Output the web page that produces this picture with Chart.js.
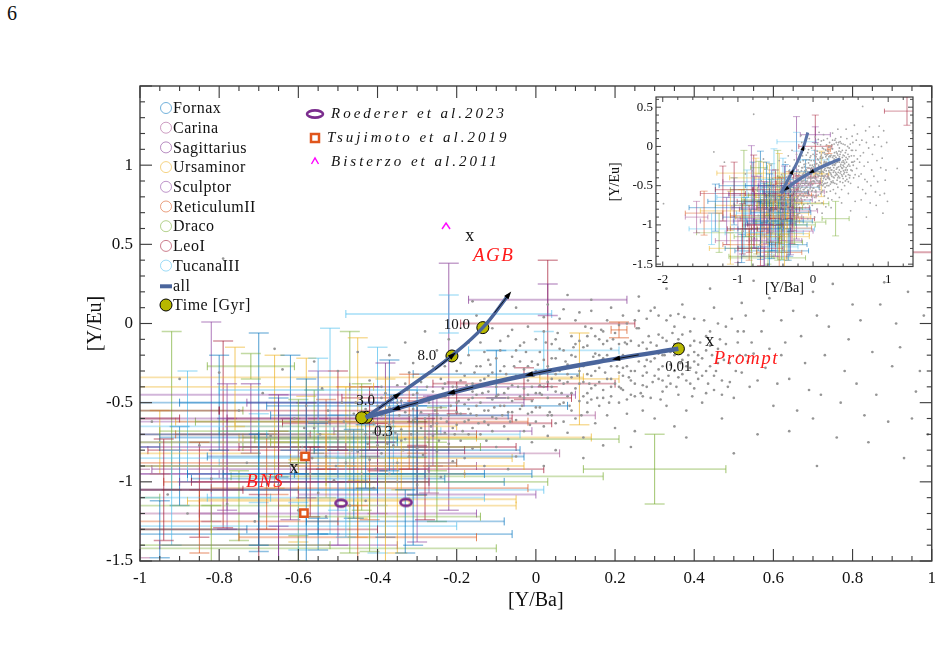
<!DOCTYPE html>
<html>
<head>
<meta charset="utf-8">
<script src="https://cdn.jsdelivr.net/npm/chart.js@4.4.1/dist/chart.umd.min.js"></script>
<style>
  body { margin: 0; background: #fff; }
  #wrap { position: relative; width: 943px; height: 663px; overflow: hidden; }
  #mainChart { position: absolute; left: 0; top: 0; }
  #insetChart { position: absolute; left: 596px; top: 86px; }
  #pageNo { position: absolute; left: 7px; top: 2px; font: 20px "Liberation Serif", serif; color: #111; }
</style>
</head>
<body>
<div id="wrap">
  <div id="pageNo">6</div>
  <canvas id="mainChart" width="943" height="663"></canvas>
  <canvas id="insetChart" width="330" height="214"></canvas>
</div>
<script>
// ---- data ----
const galaxyNames = ['Fornax', 'Carina', 'Sagittarius', 'Ursaminor', 'Sculptor', 'ReticulumII', 'Draco', 'LeoI', 'TucanaIII'];
const galaxyColors = ['#0072bd', '#a44f8f', '#7e2f8e', '#edb120', '#8a3f9e', '#d95319', '#77ac30', '#a2142f', '#4dbeee'];

// stars: [Y/Ba, Y/Eu, err Y/Ba, err Y/Eu, galaxy]
const stars = [
  [-0.92, -0.55, 0.18, 0.50, 6], [-0.82, -0.62, 0.30, 0.63, 4], [-0.79, -0.70, 0.22, 0.59, 7],
  [-0.70, -0.75, 0.35, 0.69, 0], [-0.66, -0.62, 0.25, 0.42, 3], [-0.52, -0.68, 0.28, 0.65, 8],
  [-0.47, -0.75, 0.20, 0.70, 6], [-0.45, -0.72, 0.30, 0.63, 3], [-0.40, -0.80, 0.18, 0.65, 8],
  [-0.22, -0.40, 0.25, 0.78, 2], [0.03, 0.00, 0.22, 0.40, 7], [-0.03, -0.38, 0.23, 0.10, 7],
  [-0.22, 0.06, 0.26, 0.12, 8], [0.03, 0.15, 0.20, 0.10, 2], [0.02, -0.17, 0.19, 0.12, 8],
  [-0.10, -0.32, 0.21, 0.15, 0], [0.11, -0.35, 0.10, 0.29, 3], [0.21, -0.04, 0.02, 0.05, 5],
  [-0.72, -0.27, 0.11, 0.08, 6], [-0.58, -0.34, 0.70, 0.12, 3], [-0.55, -0.45, 0.65, 0.15, 4],
  [0.30, -0.92, 0.18, 0.22, 6], [-0.20, -0.47, 0.29, 0.10, 7], [-0.25, -0.58, 0.40, 0.12, 1],
  [-0.30, -0.72, 0.44, 0.10, 3], [-0.25, -0.73, 0.46, 0.20, 6], [-0.30, -0.965, 0.47, 0.12, 6],
  [-0.40, -1.05, 0.42, 0.10, 8], [-0.45, -1.11, 0.40, 0.12, 3], [-0.55, -1.33, 0.49, 0.10, 0],
  [-0.60, -1.42, 0.50, 0.08, 6], [-0.30, -0.63, 0.34, 0.14, 7], [-0.40, -0.78, 0.35, 0.15, 7],
  [-0.42, -1.04, 0.40, 0.20, 5], [-0.30, -0.52, 0.38, 0.10, 0],
  [-0.90, -0.90, 0.30, 0.25, 0], [-0.85, -1.05, 0.25, 0.30, 7], [-0.95, -0.75, 0.35, 0.20, 3],
  [-0.78, -0.95, 0.28, 0.35, 4], [-0.75, -1.15, 0.30, 0.22, 6], [-0.70, -0.85, 0.32, 0.28, 8],
  [-0.68, -1.00, 0.26, 0.30, 5], [-0.65, -0.72, 0.30, 0.25, 0], [-0.62, -0.92, 0.35, 0.32, 2],
  [-0.60, -1.12, 0.28, 0.26, 3], [-0.58, -0.80, 0.40, 0.30, 7], [-0.56, -0.62, 0.30, 0.20, 6],
  [-0.55, -0.98, 0.32, 0.35, 0], [-0.53, -0.70, 0.38, 0.22, 5], [-0.50, -0.88, 0.30, 0.30, 8],
  [-0.50, -1.20, 0.35, 0.20, 4], [-0.48, -0.65, 0.28, 0.25, 3], [-0.46, -0.95, 0.33, 0.28, 0],
  [-0.44, -0.78, 0.30, 0.40, 6], [-0.42, -0.60, 0.36, 0.20, 7], [-0.40, -0.90, 0.25, 0.30, 1],
  [-0.38, -1.00, 0.30, 0.35, 0], [-0.36, -0.70, 0.32, 0.25, 8], [-0.34, -0.85, 0.28, 0.20, 3],
  [-0.32, -0.62, 0.30, 0.30, 5], [-0.30, -0.80, 0.26, 0.28, 0], [-0.28, -0.92, 0.30, 0.32, 7],
  [-0.26, -0.68, 0.25, 0.22, 4], [-0.25, -1.00, 0.28, 0.25, 6], [-0.60, -1.28, 0.40, 0.15, 8],
  [-0.72, -0.60, 0.40, 0.22, 2], [-0.80, -0.50, 0.45, 0.30, 0], [-0.88, -0.65, 0.40, 0.35, 8],
  [-1.05, -0.70, 0.35, 0.30, 0], [-1.10, -0.82, 0.40, 0.25, 3], [-1.15, -0.95, 0.35, 0.30, 4],
  [-1.20, -0.60, 0.30, 0.35, 7], [-1.25, -1.10, 0.30, 0.25, 6], [-1.30, -0.78, 0.35, 0.30, 0],
  [-1.45, -0.85, 0.25, 0.28, 5], [-1.35, -1.05, 0.30, 0.20, 8], [-1.00, -1.20, 0.30, 0.28, 1],
  [-1.05, -0.55, 0.25, 0.35, 7], [-1.10, -1.30, 0.28, 0.20, 3], [-0.95, -1.30, 0.22, 0.18, 0],
  [-0.85, -1.25, 0.35, 0.20, 5], [-0.92, -1.10, 0.25, 0.30, 8], [-0.70, -1.30, 0.30, 0.22, 7],
  [-0.65, -1.40, 0.30, 0.12, 4], [-0.76, -0.40, 0.35, 0.25, 3], [-0.62, -0.50, 0.28, 0.30, 0],
  [-0.50, -0.55, 0.30, 0.25, 7], [-0.35, -1.15, 0.30, 0.30, 3], [-0.33, -1.25, 0.25, 0.20, 0],
  [-0.45, -1.35, 0.30, 0.20, 5], [-0.38, -0.50, 0.35, 0.25, 2], [-0.55, -0.42, 0.25, 0.20, 8],
  [-0.65, -0.88, 0.45, 0.20, 5], [-0.78, -0.78, 0.30, 0.40, 4], [-0.82, -1.40, 0.30, 0.25, 6],
  [-0.53, -0.90, 0.50, 0.20, 3], [-0.43, -0.84, 0.40, 0.20, 0], [-0.60, -0.68, 0.35, 0.20, 6],
  [-0.57, -1.00, 0.30, 0.22, 7], [-0.48, -1.10, 0.35, 0.25, 8], [-0.42, -1.22, 0.28, 0.22, 6],
  [-0.70, -1.05, 0.30, 0.35, 0], [-0.30, -1.08, 0.30, 0.30, 4], [-0.27, -0.82, 0.33, 0.25, 1],
  [-0.37, -0.58, 0.30, 0.35, 0], [-0.38, -0.95, 0.20, 0.60, 3], [-0.31, -0.95, 0.30, 0.45, 0],
  [-0.58, -0.95, 0.30, 0.60, 0], [-0.65, -1.00, 0.25, 0.55, 2], [-0.94, -1.05, 0.20, 0.32, 7],
  [-1.55, -0.90, 0.15, 0.20, 1], [1.25, 0.45, 0.30, 0.18, 7]
];

// simulated stars (grey cloud)
const simPoints = [
  [-0.97,-0.62],[-0.93,-1.08],[-0.9,-0.35],[-0.88,-1.2],[-0.85,-0.77],[-0.82,-0.98],[-0.8,-0.31],[-0.78,-1.14],
  [-0.75,-0.55],[-0.73,-0.88],[-0.71,-1.25],[-0.69,-0.44],[-0.67,-0.71],[-0.65,-1.02],[-0.64,-0.29],[-0.62,-0.9],
  [-0.61,-0.6],[-0.6,-1.18],[-0.79,0.41],[-0.66,-0.16],
  [-0.59,-0.78],[-0.58,-0.52],[-0.57,-0.95],[-0.56,-0.66],[-0.55,-1.07],[-0.54,-0.41],[-0.53,-0.84],[-0.52,-0.61],
  [-0.51,-0.99],[-0.5,-0.73],[-0.49,-0.5],[-0.48,-0.88],[-0.47,-0.68],[-0.47,-1.15],[-0.46,-0.57],[-0.45,-0.81],
  [-0.44,-0.47],[-0.44,-0.95],[-0.43,-0.7],[-0.42,-0.36],[-0.42,-0.86],[-0.41,-0.63],[-0.41,-1.04],[-0.4,-0.52],
  [-0.4,-0.77],[-0.56,-0.24],[-0.5,-0.3],[-0.45,-0.18],[-0.53,-1.22],[-0.43,-1.12],
  [-0.585,-0.66],[-0.565,-0.85],[-0.545,-0.7],[-0.525,-0.55],[-0.505,-0.9],[-0.485,-0.62],[-0.465,-0.8],
  [-0.455,-0.5],[-0.435,-0.6],[-0.425,-0.76],[-0.415,-0.45],[-0.405,-0.92],
  [-0.39,-0.58],[-0.39,-0.82],[-0.38,-0.44],[-0.38,-0.7],[-0.37,-0.95],[-0.37,-0.53],[-0.36,-0.62],[-0.36,-0.77],
  [-0.35,-0.39],[-0.35,-0.88],[-0.34,-0.49],[-0.34,-0.67],[-0.33,-0.56],[-0.33,-0.73],[-0.32,-0.31],[-0.32,-0.84],
  [-0.31,-0.45],[-0.31,-0.61],[-0.3,-0.52],[-0.3,-0.79],[-0.3,-1.02],[-0.29,-0.37],[-0.29,-0.66],[-0.28,-0.48],
  [-0.28,-0.72],[-0.27,-0.58],[-0.27,-0.9],[-0.26,-0.27],[-0.26,-0.43],[-0.25,-0.63],[-0.25,-0.81],[-0.24,-0.53],
  [-0.24,-0.35],[-0.23,-0.69],[-0.23,-0.46],[-0.22,-0.58],[-0.22,-0.76],[-0.21,-0.4],[-0.21,-0.87],[-0.2,-0.5],
  [-0.2,-0.64],[-0.2,-0.3],[-0.37,-0.2],[-0.33,-0.12],[-0.28,-0.05],[-0.25,-0.17],[-0.22,-0.1],[-0.35,-1.0],
  [-0.24,-0.97],[-0.31,-0.25],
  [-0.395,-0.65],[-0.385,-0.51],[-0.375,-0.76],[-0.365,-0.46],[-0.355,-0.69],[-0.345,-0.58],[-0.335,-0.8],
  [-0.325,-0.42],[-0.315,-0.7],[-0.305,-0.6],[-0.295,-0.5],[-0.285,-0.83],[-0.275,-0.4],[-0.265,-0.65],
  [-0.255,-0.55],[-0.245,-0.74],[-0.235,-0.41],[-0.225,-0.62],[-0.215,-0.52],[-0.205,-0.7],[-0.39,-0.4],
  [-0.33,-0.38],[-0.27,-0.31],[-0.23,-0.27],[-0.36,-0.55],[-0.28,-0.6],[-0.21,-0.45],[-0.31,-0.54],
  [-0.43,-0.54],[-0.41,-0.69],[-0.39,-0.47],[-0.37,-0.64],[-0.35,-0.5],[-0.34,-0.74],[-0.32,-0.58],[-0.3,-0.44],
  [-0.29,-0.56],[-0.27,-0.5],[-0.26,-0.71],[-0.24,-0.6],[-0.23,-0.38],[-0.21,-0.66],[-0.2,-0.56],
  [-0.19,-0.57],[-0.19,-0.42],[-0.19,-0.74],[-0.18,-0.33],[-0.18,-0.62],[-0.18,-0.85],[-0.17,-0.48],[-0.17,-0.54],
  [-0.17,-0.2],[-0.16,-0.66],[-0.16,-0.38],[-0.16,-0.79],[-0.15,-0.45],[-0.15,-0.58],[-0.15,-0.27],[-0.14,-0.7],
  [-0.14,-0.5],[-0.14,-0.12],[-0.13,-0.35],[-0.13,-0.62],[-0.13,-0.9],[-0.12,-0.43],[-0.12,-0.55],[-0.12,-0.23],
  [-0.11,-0.68],[-0.11,-0.31],[-0.11,-0.48],[-0.1,-0.6],[-0.1,-0.4],[-0.1,-0.78],[-0.09,-0.17],[-0.09,-0.52],
  [-0.09,-0.36],[-0.08,-0.65],[-0.08,-0.44],[-0.08,-0.27],[-0.07,-0.56],[-0.07,-0.08],[-0.07,-0.73],[-0.06,-0.39],
  [-0.06,-0.49],[-0.06,-0.21],[-0.05,-0.61],[-0.05,-0.33],[-0.05,-0.84],[-0.04,-0.46],[-0.04,-0.14],[-0.04,-0.54],
  [-0.03,-0.29],[-0.03,-0.68],[-0.03,-0.41],[-0.02,-0.57],[-0.02,-0.02],[-0.02,-0.36],[-0.01,-0.49],[-0.01,-0.24],
  [-0.01,-0.75],[0,-0.44],[0,-0.62],[0,-0.1],[-0.15,0.05],[-0.05,0.1],[-0.11,-0.03],[-0.18,-0.95],[-0.07,-0.92],
  [-0.16,0.14],
  [-0.195,-0.49],[-0.185,-0.68],[-0.175,-0.39],[-0.165,-0.57],[-0.155,-0.31],[-0.145,-0.63],[-0.135,-0.44],
  [-0.125,-0.74],[-0.115,-0.26],[-0.105,-0.53],[-0.095,-0.45],[-0.085,-0.58],[-0.075,-0.32],[-0.065,-0.62],
  [-0.055,-0.27],[-0.045,-0.4],[-0.035,-0.52],[-0.025,-0.18],[-0.015,-0.64],[-0.005,-0.33],[-0.19,-0.25],
  [-0.17,-0.12],[-0.13,-0.18],[-0.09,-0.11],[-0.06,-0.04],[-0.03,-0.12],[-0.17,-0.7],[-0.12,-0.64],[-0.07,-0.47],
  [-0.02,-0.45],[-0.14,-0.36],[-0.1,-0.22],[-0.04,-0.24],[-0.01,-0.56],[-0.2,-0.4],[-0.16,-0.47],
  [-0.19,-0.36],[-0.18,-0.51],[-0.17,-0.61],[-0.16,-0.43],[-0.15,-0.52],[-0.14,-0.27],[-0.13,-0.55],[-0.12,-0.33],
  [-0.11,-0.59],[-0.1,-0.46],[-0.09,-0.3],[-0.08,-0.52],[-0.07,-0.41],[-0.06,-0.56],[-0.05,-0.17],[-0.04,-0.33],
  [-0.03,-0.47],[-0.02,-0.27],[-0.01,-0.4],[0,-0.3],[0,-0.53],
  [0.01,-0.32],[0.01,-0.53],[0.01,-0.18],[0.02,-0.65],[0.02,-0.4],[0.02,-0.05],[0.03,-0.47],[0.03,-0.27],
  [0.03,-0.71],[0.04,-0.35],[0.04,-0.58],[0.04,-0.13],[0.05,-0.43],[0.05,-0.22],[0.05,-0.8],[0.06,-0.51],
  [0.06,-0.3],[0.06,0.03],[0.07,-0.62],[0.07,-0.38],[0.07,-0.17],[0.08,-0.46],[0.08,-0.26],[0.08,-0.69],
  [0.09,-0.34],[0.09,-0.55],[0.09,-0.08],[0.1,-0.41],[0.1,-0.21],[0.1,-0.6],[0.11,-0.3],[0.11,-0.49],
  [0.11,0.07],[0.12,-0.37],[0.12,-0.15],[0.12,-0.72],[0.13,-0.44],[0.13,-0.25],[0.13,-0.56],[0.14,-0.33],
  [0.14,-0.03],[0.14,-0.48],[0.15,-0.19],[0.15,-0.63],[0.15,-0.39],[0.16,-0.28],[0.16,-0.52],[0.16,-0.1],
  [0.17,-0.42],[0.17,-0.22],[0.17,-0.77],[0.18,-0.35],[0.18,0.02],[0.18,-0.58],[0.19,-0.46],[0.19,-0.16],
  [0.19,-0.27],[0.2,-0.38],[0.2,-0.66],[0.2,-0.06],[0.03,0.12],[0.08,0.18],[0.14,0.15],[0.02,-0.9],
  [0.12,-0.85],[0.19,0.1],
  [0.005,-0.26],[0.015,-0.45],[0.025,-0.12],[0.035,-0.56],[0.045,-0.3],[0.055,-0.06],[0.065,-0.44],
  [0.075,-0.24],[0.085,-0.52],[0.095,-0.15],[0.105,-0.33],[0.115,-0.58],[0.125,-0.02],[0.135,-0.38],
  [0.145,-0.21],[0.155,-0.47],[0.165,-0.04],[0.175,-0.31],[0.185,-0.5],[0.195,-0.1],[0.01,-0.39],[0.04,-0.22],
  [0.06,-0.36],[0.09,-0.27],[0.11,-0.11],[0.13,-0.32],[0.15,-0.08],[0.17,-0.13],[0.19,-0.35],[0.02,0.04],
  [0.07,0.09],[0.1,0.02],[0.14,0.08],[0.18,-0.2],[0.08,-0.37],[0.12,-0.46],[0.16,-0.37],[0.05,-0.63],
  [0.03,-0.37],[0.13,-0.5],
  [0.01,-0.44],[0.02,-0.23],[0.03,-0.58],[0.04,-0.4],[0.05,-0.32],[0.06,-0.16],[0.07,-0.5],[0.08,-0.32],
  [0.09,-0.44],[0.1,-0.13],[0.11,-0.38],[0.12,-0.27],[0.13,-0.08],[0.14,-0.41],[0.15,-0.3],[0.16,-0.2],
  [0.17,-0.47],[0.18,-0.11],[0.19,-0.4],[0.2,-0.22],[0.17,-0.05],[0.13,-0.14],[0.09,-0.2],[0.05,-0.1],
  [0.21,-0.31],[0.21,-0.5],[0.22,-0.2],[0.22,-0.42],[0.22,0.05],[0.23,-0.57],[0.23,-0.27],[0.24,-0.36],
  [0.24,-0.11],[0.25,-0.46],[0.25,-0.68],[0.26,-0.24],[0.26,-0.03],[0.27,-0.39],[0.27,-0.55],[0.28,-0.16],
  [0.28,-0.31],[0.29,-0.47],[0.29,0.08],[0.3,-0.22],[0.3,-0.6],[0.31,-0.35],[0.31,-0.07],[0.32,-0.43],
  [0.32,-0.27],[0.33,-0.52],[0.33,0.02],[0.34,-0.18],[0.34,-0.38],[0.35,-0.3],[0.35,-0.65],[0.36,-0.1],
  [0.36,-0.45],[0.37,-0.23],[0.37,0.12],[0.38,-0.36],[0.38,-0.55],[0.39,-0.14],[0.39,-0.28],[0.4,-0.41],
  [0.4,0.03],[0.26,0.17],[0.33,0.22],[0.24,-0.78],[0.38,-0.72],
  [0.205,-0.27],[0.215,-0.41],[0.225,-0.12],[0.235,-0.34],[0.245,-0.21],[0.255,-0.03],[0.265,-0.44],
  [0.275,-0.27],[0.285,-0.08],[0.295,-0.37],[0.305,-0.14],[0.315,-0.48],[0.325,-0.2],[0.335,-0.33],
  [0.345,-0.06],[0.355,-0.4],[0.365,-0.25],[0.375,0.04],[0.385,-0.2],[0.395,-0.46],[0.405,-0.31],
  [0.415,-0.12],[0.425,0.02],[0.435,-0.38],[0.445,-0.2],[0.21,-0.13],[0.23,0.0],[0.25,-0.3],[0.27,-0.12],
  [0.29,-0.24],[0.31,-0.29],[0.33,-0.11],[0.35,-0.2],[0.37,-0.32],[0.39,-0.05],[0.41,-0.26],[0.43,-0.17],
  [0.22,-0.33],[0.24,-0.45],[0.28,-0.4],[0.32,-0.36],[0.36,0.06],[0.4,-0.18],[0.44,-0.05],[0.26,0.08],
  [0.3,0.1],[0.34,0.05],
  [0.21,-0.4],[0.22,-0.28],[0.23,-0.13],[0.24,-0.3],[0.25,-0.38],[0.26,-0.14],[0.27,-0.46],[0.28,-0.23],
  [0.29,-0.12],[0.3,-0.33],[0.31,-0.19],[0.32,-0.09],[0.33,-0.4],[0.34,-0.26],[0.35,-0.13],[0.36,-0.34],
  [0.37,-0.07],[0.38,-0.27],[0.39,-0.38],[0.4,-0.11],[0.41,-0.35],[0.42,-0.22],[0.43,-0.44],[0.44,-0.14],
  [0.45,-0.33],[0.25,0.02],[0.28,0.03],[0.31,0.05],[0.35,-0.02],[0.21,-0.01],[0.23,-0.48],[0.27,-0.33],
  [0.32,-0.2],[0.36,-0.16],[0.4,-0.24],[0.43,-0.3],
  [0.41,-0.2],[0.42,-0.33],[0.42,-0.5],[0.43,-0.08],[0.44,-0.27],[0.45,-0.42],[0.45,0.1],[0.46,-0.16],
  [0.47,-0.36],[0.47,-0.6],[0.48,-0.02],[0.49,-0.25],[0.5,-0.47],[0.51,-0.12],[0.52,-0.31],[0.53,0.05],
  [0.54,-0.4],[0.55,-0.19],[0.56,-0.7],[0.57,-0.05],[0.58,-0.28],[0.59,0.16],[0.44,0.22],[0.5,-0.82],
  [0.55,0.27],
  [0.455,-0.3],[0.465,-0.1],[0.475,-0.23],[0.485,-0.4],[0.495,0.03],[0.505,-0.3],[0.515,-0.2],[0.525,-0.05],
  [0.535,-0.24],[0.545,-0.12],[0.56,-0.36],[0.575,0.08],[0.59,-0.16],[0.48,-0.13],[0.52,0.13],[0.46,0.0],
  [0.46,-0.25],[0.49,-0.37],[0.51,-0.05],[0.47,-0.45],[0.53,-0.2],
  [0.61,-0.38],[0.63,-0.12],[0.65,0.08],[0.66,-0.55],[0.68,-0.25],[0.7,0.2],[0.72,-0.45],[0.74,-0.02],
  [0.76,-0.72],[0.78,-0.3],[0.8,0.12],[0.83,-0.58],[0.85,-0.18],[0.88,0.26],[0.9,-0.27],[0.93,-0.85],
  [0.96,-0.43],[0.98,0.05],[0.66,0.51],[0.71,-0.9],
  [0.6,-0.52],[0.62,-0.2],[0.62,0.02],[0.64,-0.35],[0.64,-0.68],[0.67,-0.08],[0.69,-0.42],[0.7,-0.6],
  [0.71,0.05],[0.73,-0.2],[0.75,0.25],[0.77,-0.5],[0.79,-0.1],[0.81,-0.38],[0.82,0.02],[0.84,-0.75],
  [0.86,-0.45],[0.87,0.12],[0.89,-0.62],[0.91,0.0],[0.92,-0.15],[0.94,0.2],[0.95,-0.6],[0.97,-0.3],
  [0.99,-0.7],
  [-1.99,-0.73],[-1.32,-0.07],[-1.18,-0.2],[1.12,-0.28],[1.32,0.17]
];

// chemical-evolution track ("all"), prompt branch then AGB branch
const promptYBa = [0.36, 0.205, -0.015, -0.212, -0.351, -0.43];
const promptYEu = [-0.16, -0.222, -0.322, -0.436, -0.537, -0.593];
const agbYBa = [-0.43, -0.351, -0.28, -0.212, -0.134, -0.07];
const agbYEu = [-0.593, -0.455, -0.33, -0.203, -0.026, 0.178];

// time markers [Gyr]
const timeLabels = ['0.01', '0.3', '3.0', '8.0', '10.0'];
const timeYBa = [0.36, -0.428, -0.44, -0.212, -0.134];
const timeYEu = [-0.16, -0.592, -0.595, -0.205, -0.026];

// literature points
const roedererYBa = [-0.492, -0.328];
const roedererYEu = [-1.135, -1.13];
const tsujimotoYBa = [-0.583, -0.586];
const tsujimotoYEu = [-0.839, -1.198];
const bisterzoYBa = [-0.227];
const bisterzoYEu = [0.616];

const mainXTicks = [-1, -0.8, -0.6, -0.4, -0.2, 0, 0.2, 0.4, 0.6, 0.8, 1];
const mainYTicks = [-1.5, -1, -0.5, 0, 0.5, 1];
const insetXTicks = [-2, -1, 0, 1];
const insetYTicks = [-1.5, -1, -0.5, 0, 0.5];

const trackColor = '#4a659c';
const timeColor = '#b8b800';
const serif = '"Liberation Serif", "Times New Roman", serif';

Chart.defaults.font.family = serif;
Chart.defaults.color = '#111';

const pairs = (xs, ys) => xs.map((v, i) => ({ x: v, y: ys[i] }));
const fmt = v => String(Math.round(v * 100) / 100);

function iconCanvas(w, h, draw) {
  const c = document.createElement('canvas');
  c.width = w; c.height = h;
  draw(c.getContext('2d'));
  return c;
}
const ellipseIcon = iconCanvas(18, 14, g => {
  g.strokeStyle = '#7b2d8e'; g.lineWidth = 2.6;
  g.beginPath(); g.ellipse(9, 7, 5.6, 3.4, 0, 0, Math.PI * 2); g.stroke();
});
const caretIcon = iconCanvas(12, 10, g => {
  g.strokeStyle = '#ff00ff'; g.lineWidth = 1.4;
  g.beginPath(); g.moveTo(2, 8); g.lineTo(6, 2); g.lineTo(10, 8); g.stroke();
});

// ---- plugins ----
const errorBars = {
  id: 'errorBars',
  beforeDatasetsDraw(chart, args, o) {
    const { ctx, chartArea: a, scales: { x, y } } = chart;
    ctx.save();
    ctx.beginPath();
    ctx.rect(a.left, a.top, a.right - a.left, a.bottom - a.top);
    ctx.clip();
    const seg = (x0, y0, x1, y1) => { ctx.beginPath(); ctx.moveTo(x0, y0); ctx.lineTo(x1, y1); ctx.stroke(); };
    stars.forEach(([sx, sy, ex, ey, g]) => {
      const px = x.getPixelForValue(sx), py = y.getPixelForValue(sy);
      const xl = x.getPixelForValue(sx - ex), xr = x.getPixelForValue(sx + ex);
      const yb = y.getPixelForValue(sy - ey), yt = y.getPixelForValue(sy + ey);
      ctx.strokeStyle = galaxyColors[g];
      ctx.globalAlpha = 0.38; ctx.lineWidth = o.hw;
      seg(xl, py, xr, py);
      ctx.globalAlpha = 0.7; ctx.lineWidth = o.vw;
      seg(xl, py - o.hCap, xl, py + o.hCap);
      seg(xr, py - o.hCap, xr, py + o.hCap);
      seg(px, yb, px, yt);
      ctx.globalAlpha = 0.45; ctx.lineWidth = o.hw * 0.8;
      seg(px - o.vCap, yb, px + o.vCap, yb);
      seg(px - o.vCap, yt, px + o.vCap, yt);
    });
    ctx.restore();
  }
};

const boxTicks = {
  id: 'boxTicks',
  beforeDraw(chart, args, o) {
    if (!o.fill) return;
    const { ctx, chartArea: a } = chart;
    ctx.save(); ctx.fillStyle = '#fff';
    ctx.fillRect(a.left, a.top, a.right - a.left, a.bottom - a.top);
    ctx.restore();
  },
  afterDraw(chart, args, o) {
    const { ctx, chartArea: a, scales: { x, y } } = chart;
    ctx.save();
    ctx.strokeStyle = '#3c3c3c';
    ctx.lineWidth = o.lw;
    ctx.strokeRect(a.left, a.top, a.right - a.left, a.bottom - a.top);
    ctx.lineWidth = o.lw * 0.8;
    const seg = (x0, y0, x1, y1) => { ctx.beginPath(); ctx.moveTo(x0, y0); ctx.lineTo(x1, y1); ctx.stroke(); };
    const isMajor = (v, step) => Math.abs(v / step - Math.round(v / step)) < 1e-6;
    for (let i = Math.ceil(x.min / o.xMinor - 1e-6); i * o.xMinor <= x.max + 1e-9; i++) {
      const v = i * o.xMinor, px = x.getPixelForValue(v);
      const len = isMajor(v, o.xMajor) ? o.major : o.minor;
      seg(px, a.bottom, px, a.bottom - len);
      seg(px, a.top, px, a.top + len);
    }
    for (let i = Math.ceil(y.min / o.yMinor - 1e-6); i * o.yMinor <= y.max + 1e-9; i++) {
      const v = i * o.yMinor, py = y.getPixelForValue(v);
      const len = isMajor(v, o.yMajor) ? o.major : o.minor;
      seg(a.left, py, a.left + len, py);
      seg(a.right, py, a.right - len, py);
    }
    ctx.restore();
  }
};

const trackArrows = {
  id: 'trackArrows',
  afterDatasetsDraw(chart, args, o) {
    const { ctx } = chart;
    ctx.save();
    ctx.fillStyle = '#000'; ctx.strokeStyle = '#000'; ctx.lineWidth = 0.8;
    o.sets.forEach(({ ds, at }) => {
      const pts = chart.getDatasetMeta(ds).data;
      at.forEach(i => {
        const p = pts[i], a = pts[Math.max(i - 1, 0)], b = pts[Math.min(i + 1, pts.length - 1)];
        let dx = b.x - a.x, dy = b.y - a.y;
        const len = Math.hypot(dx, dy); dx /= len; dy /= len;
        const s = o.size;
        ctx.beginPath(); ctx.moveTo(p.x - dx * o.shaft, p.y - dy * o.shaft); ctx.lineTo(p.x, p.y); ctx.stroke();
        ctx.beginPath();
        ctx.moveTo(p.x + dx * s, p.y + dy * s);
        ctx.lineTo(p.x - dx * s * 0.6 - dy * s * 0.55, p.y - dy * s * 0.6 + dx * s * 0.55);
        ctx.lineTo(p.x - dx * s * 0.6 + dy * s * 0.55, p.y - dy * s * 0.6 - dx * s * 0.55);
        ctx.closePath(); ctx.fill();
      });
    });
    ctx.restore();
  }
};

const annotations = {
  id: 'annotations',
  afterDatasetsDraw(chart) {
    const { ctx, scales: { x, y } } = chart;
    ctx.save();
    // time labels next to markers
    const offs = [[0, 18], [17, 15], [4, -17], [-25, 0], [-26, -3]];
    const tm = chart.getDatasetMeta(0).data;
    ctx.font = '15px ' + serif; ctx.fillStyle = '#111';
    ctx.textAlign = 'center'; ctx.textBaseline = 'middle';
    timeLabels.forEach((t, i) => ctx.fillText(t, tm[i].x + offs[i][0], tm[i].y + offs[i][1]));
    // source labels
    ctx.font = '18px ' + serif;
    [[0.439, -0.115], [-0.167, 0.553], [-0.611, -0.914]].forEach(([vx, vy]) =>
      ctx.fillText('x', x.getPixelForValue(vx), y.getPixelForValue(vy)));
    ctx.fillStyle = '#ff1a1a'; ctx.textAlign = 'left'; ctx.textBaseline = 'alphabetic';
    ctx.font = 'italic 19px ' + serif;
    ctx.letterSpacing = '1.5px';
    [['Prompt', 0.449, -0.253], ['AGB', -0.159, 0.395], ['BNS', -0.732, -1.034]].forEach(([t, vx, vy]) =>
      ctx.fillText(t, x.getPixelForValue(vx), y.getPixelForValue(vy)));
    ctx.restore();
  }
};

const sketchLegend = {
  id: 'sketchLegend',
  afterDraw(chart) {
    const { ctx, chartArea: a } = chart;
    const cx = a.left + 26, tx = a.left + 33;
    ctx.save();
    ctx.textBaseline = 'middle';
    ctx.font = '16px ' + serif;
    ctx.letterSpacing = '0.5px';
    const rowY = i => a.top + 22 + i * 19.7;
    galaxyNames.forEach((name, i) => {
      ctx.globalAlpha = 0.55; ctx.strokeStyle = galaxyColors[i]; ctx.lineWidth = 1;
      ctx.beginPath(); ctx.arc(cx, rowY(i), 5.5, 0, Math.PI * 2); ctx.stroke();
      ctx.globalAlpha = 1; ctx.fillStyle = '#111';
      ctx.fillText(name, tx, rowY(i) + 1);
    });
    let r = rowY(9);
    ctx.strokeStyle = trackColor; ctx.lineWidth = 4;
    ctx.beginPath(); ctx.moveTo(cx - 6, r + 1); ctx.lineTo(cx + 6, r + 1); ctx.stroke();
    ctx.fillText('all', tx, r + 1);
    r = rowY(10);
    ctx.fillStyle = timeColor; ctx.strokeStyle = '#000'; ctx.lineWidth = 1;
    ctx.beginPath(); ctx.arc(cx, r, 6, 0, Math.PI * 2); ctx.fill(); ctx.stroke();
    ctx.fillStyle = '#111';
    ctx.fillText('Time [Gyr]', tx, r + 1);

    // literature legend
    const sx = a.left + 175, lx = a.left + 191;
    ctx.strokeStyle = '#7b2d8e'; ctx.lineWidth = 2.6;
    ctx.beginPath(); ctx.ellipse(sx, a.top + 28, 8, 3.6, 0, 0, Math.PI * 2); ctx.stroke();
    ctx.strokeStyle = '#e0561c'; ctx.lineWidth = 2.5;
    ctx.strokeRect(sx - 4, a.top + 48, 8, 8);
    ctx.strokeStyle = '#ff00ff'; ctx.lineWidth = 1.4;
    ctx.beginPath(); ctx.moveTo(sx - 3.5, a.top + 78); ctx.lineTo(sx, a.top + 72); ctx.lineTo(sx + 3.5, a.top + 78); ctx.stroke();
    ctx.fillStyle = '#111';
    ctx.font = 'italic 15px ' + serif;
    ctx.letterSpacing = '3px';
    ctx.fillText('Roederer et al.2023', lx, a.top + 28);
    ctx.fillText('Tsujimoto et al.2019', lx - 4, a.top + 52);
    ctx.fillText('Bisterzo et al.2011', lx, a.top + 76);
    ctx.restore();
  }
};

function axis(min, max, tickVals, tickSize, tickPad, titleText, titleSize, titlePad, fitSize, horizontal) {
  return {
    type: 'linear', min, max,
    grid: { display: false, drawTicks: false },
    border: { display: false },
    afterBuildTicks: s => { s.ticks = tickVals.map(v => ({ value: v })); },
    afterFit: s => { if (horizontal) s.height = fitSize; else s.width = fitSize; },
    ticks: { padding: tickPad, font: { size: tickSize }, color: '#111', autoSkip: false, maxRotation: 0, callback: v => fmt(v) },
    title: { display: true, text: titleText, font: { size: titleSize }, color: '#111', padding: titlePad }
  };
}

// ---- main chart ----
new Chart(document.getElementById('mainChart').getContext('2d'), {
  type: 'scatter',
  data: {
    datasets: [
      { label: 'Time [Gyr]', data: pairs(timeYBa, timeYEu), pointRadius: 6, backgroundColor: timeColor,
        borderColor: '#000', borderWidth: 1, order: 3 },
      { label: 'all', data: pairs(promptYBa, promptYEu), showLine: true, tension: 0.4, borderColor: trackColor,
        borderWidth: 4.5, pointRadius: 0, order: 2 },
      { label: 'all (AGB)', data: pairs(agbYBa, agbYEu), showLine: true, tension: 0.4, borderColor: trackColor,
        borderWidth: 3.5, pointRadius: 0, order: 2 },
      { label: 'Roederer et al.2023', data: pairs(roedererYBa, roedererYEu), pointStyle: ellipseIcon, order: 1 },
      { label: 'Tsujimoto et al.2019', data: pairs(tsujimotoYBa, tsujimotoYEu), pointStyle: 'rect', pointRadius: 5.2,
        borderColor: '#e0561c', borderWidth: 2.5, backgroundColor: '#fff', order: 1 },
      { label: 'Bisterzo et al.2011', data: pairs(bisterzoYBa, bisterzoYEu), pointStyle: caretIcon, order: 1 },
      { label: 'simulation', data: simPoints, pointRadius: 1.35, backgroundColor: '#959595', borderWidth: 0, order: 9 }
    ]
  },
  options: {
    responsive: false, animation: false, devicePixelRatio: 1,
    layout: { padding: { left: 84, right: 11, top: 86, bottom: 46 } },
    plugins: {
      legend: { display: false }, tooltip: { enabled: false },
      errorBars: { hw: 1.8, vw: 1, hCap: 4, vCap: 10 },
      boxTicks: { lw: 1.4, major: 12, minor: 5, xMinor: 0.05, xMajor: 0.2, yMinor: 0.1, yMajor: 0.5, fill: false },
      trackArrows: { size: 5, shaft: 22, sets: [{ ds: 1, at: [1, 2, 3, 4] }, { ds: 2, at: [1, 3, 5] }] }
    },
    scales: {
      x: axis(-1, 1, mainXTicks, 17, 7, '[Y/Ba]', 20, { top: 0, bottom: 4 }, 56, true),
      y: axis(-1.5, 1.5, mainYTicks, 17, 7, '[Y/Eu]', 20, { top: 0, bottom: 0 }, 56, false)
    }
  },
  plugins: [errorBars, boxTicks, trackArrows, annotations, sketchLegend]
});

// ---- inset: full range ----
new Chart(document.getElementById('insetChart').getContext('2d'), {
  type: 'scatter',
  data: {
    datasets: [
      { label: 'all', data: pairs(promptYBa, promptYEu), showLine: true, tension: 0.4, borderColor: '#5a74a8',
        borderWidth: 3.5, pointRadius: 0, order: 2 },
      { label: 'all (AGB)', data: pairs(agbYBa, agbYEu), showLine: true, tension: 0.4, borderColor: '#5a74a8',
        borderWidth: 3, pointRadius: 0, order: 2 },
      { label: 'simulation', data: simPoints, pointRadius: 0.9, backgroundColor: '#a6a6a6', borderWidth: 0, order: 9 }
    ]
  },
  options: {
    responsive: false, animation: false, devicePixelRatio: 1,
    layout: { padding: { left: 11, right: 13, top: 11, bottom: 2.5 } },
    plugins: {
      legend: { display: false }, tooltip: { enabled: false },
      errorBars: { hw: 1.2, vw: 0.8, hCap: 2.5, vCap: 3.5 },
      boxTicks: { lw: 1.2, major: 5, minor: 3, xMinor: 0.2, xMajor: 1, yMinor: 0.1, yMajor: 0.5, fill: true },
      trackArrows: { size: 3.5, shaft: 0, sets: [{ ds: 0, at: [2, 4] }, { ds: 1, at: [2, 4] }] }
    },
    scales: {
      x: axis(-2.09, 1.33, insetXTicks, 13, 5.5, '[Y/Ba]', 14, { top: 0, bottom: 1 }, 31, true),
      y: axis(-1.53, 0.63, insetYTicks, 13, 3, '[Y/Eu]', 14, { top: 0, bottom: 0 }, 49, false)
    }
  },
  plugins: [errorBars, boxTicks, trackArrows]
});
</script>
</body>
</html>
